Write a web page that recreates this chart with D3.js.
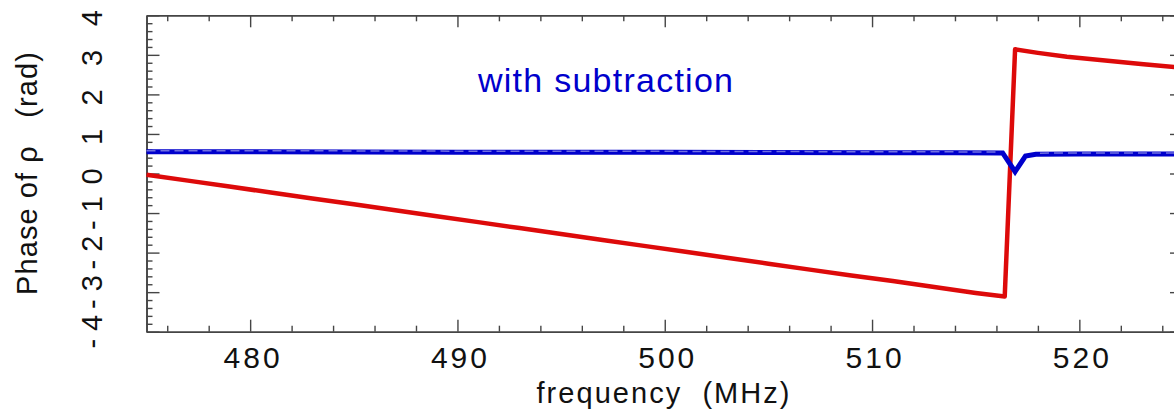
<!DOCTYPE html>
<html>
<head>
<meta charset="utf-8">
<script src="https://cdn.jsdelivr.net/npm/d3@7"></script>
<style>
  html, body { margin: 0; padding: 0; background: #fff; }
  svg { display: block; font-family: "Liberation Sans", Arial, Helvetica, sans-serif; }
</style>
</head>
<body>
<svg id="chart" width="1174" height="414"></svg>
<script>
// Frequency (MHz) and phase (rad) of the reflection coefficient
const rawFreq = [475, 477, 479, 481, 483, 485, 487, 489, 491, 493, 495, 497, 499,
                 501, 503, 505, 507, 509, 511, 513, 515, 516.4, 516.9, 518, 519.4,
                 521, 523.1, 525];
const rawPhase = [-0.03, -0.18, -0.33, -0.48, -0.63, -0.78, -0.93, -1.08, -1.23,
                  -1.38, -1.53, -1.68, -1.83, -1.98, -2.13, -2.28, -2.43, -2.58,
                  -2.72, -2.87, -3.02, -3.11, 3.14, 3.05, 2.95, 2.87, 2.76, 2.67];

const subFreq = [475, 480, 485, 490, 495, 500, 505, 510, 514, 516.3, 516.9, 517.4,
                 517.9, 520, 522.5, 525];
const subPhase = [0.55, 0.55, 0.545, 0.54, 0.54, 0.535, 0.53, 0.525, 0.525, 0.52,
                  0.045, 0.44, 0.485, 0.495, 0.495, 0.495];

// Companion trace drawn dashed on top of the subtracted phase (gap at the dip)
const refFreq = [475, 482, 490, 500, 510, 516.2, null, 518.1, 521, 525];
const refPhase = [0.575, 0.575, 0.565, 0.56, 0.55, 0.545, null, 0.515, 0.52, 0.52];

const xMajor = [480, 490, 500, 510, 520];
const xMinor = [476, 478, 482, 484, 486, 488, 492, 494, 496, 498, 502, 504, 506, 508,
                512, 514, 516, 518, 522, 524];
const yMajor = [-4, -3, -2, -1, 0, 1, 2, 3, 4];
const yMinor = [-3.8, -3.6, -3.4, -3.2, -2.8, -2.6, -2.4, -2.2, -1.8, -1.6, -1.4, -1.2,
                -0.8, -0.6, -0.4, -0.2, 0.2, 0.4, 0.6, 0.8, 1.2, 1.4, 1.6, 1.8,
                2.2, 2.4, 2.6, 2.8, 3.2, 3.4, 3.6, 3.8];
const yTickText = ["- 4", "- 3", "- 2", "- 1", "0", "1", "2", "3", "4"];

const svg = d3.select("#chart");
const plotLeft = 146.5, plotRight = 1183, plotTop = 15.3, plotBottom = 331.7;

const x = d3.scaleLinear().domain([475, 525]).range([plotLeft, plotRight]);
const y = d3.scaleLinear().domain([-4, 4]).range([plotBottom, plotTop]);

const axisColor = "#454545";

function styleAxis(g) {
  g.selectAll("path.domain").attr("stroke", axisColor).attr("stroke-width", 1.6);
  g.selectAll(".tick line").attr("stroke", axisColor).attr("stroke-width", 1.4);
  g.selectAll(".tick text").remove();
}

function addAxis(axisFn, scale, values, size, tx, ty) {
  const g = svg.append("g").attr("transform", `translate(${tx},${ty})`)
    .call(axisFn(scale).tickValues(values).tickSize(size).tickSizeOuter(0).tickFormat(""));
  styleAxis(g);
  return g;
}

// bottom & top frame
addAxis(d3.axisTop, x, xMajor, 12, 0, plotBottom);
addAxis(d3.axisTop, x, xMinor, 6, 0, plotBottom);
addAxis(d3.axisBottom, x, xMajor, 12, 0, plotTop);
addAxis(d3.axisBottom, x, xMinor, 6, 0, plotTop);
// left & right frame
addAxis(d3.axisRight, y, yMajor, 13, plotLeft, 0);
addAxis(d3.axisRight, y, yMinor, 6, plotLeft, 0);
addAxis(d3.axisLeft, y, yMajor, 13, plotRight, 0);
addAxis(d3.axisLeft, y, yMinor, 6, plotRight, 0);

// x tick labels
svg.append("g").selectAll("text").data(xMajor).join("text")
  .attr("x", d => x(d) + 3)
  .attr("y", 368)
  .attr("text-anchor", "middle")
  .attr("font-size", 30)
  .attr("letter-spacing", "3px")
  .attr("fill", "#111")
  .text(d => d);

// y tick labels (rotated)
svg.append("g").selectAll("text").data(yMajor).join("text")
  .attr("transform", d => `translate(101.5,${y(d)}) rotate(-90)`)
  .attr("dx", d => d >= 0 ? -3 : 0)
  .attr("text-anchor", "middle")
  .attr("font-size", 29)
  .attr("fill", "#111")
  .style("white-space", "pre")
  .text((d, i) => yTickText[i]);

// axis titles
svg.append("text")
  .attr("x", 536.5).attr("y", 403)
  .attr("font-size", 29)
  .attr("textLength", 253).attr("lengthAdjust", "spacing")
  .attr("fill", "#111")
  .style("white-space", "pre")
  .text("frequency  (MHz)");

svg.append("text")
  .attr("transform", `translate(37,${(plotTop + plotBottom) / 2}) rotate(-90)`)
  .attr("text-anchor", "middle")
  .attr("font-size", 29)
  .attr("textLength", 243).attr("lengthAdjust", "spacing")
  .attr("fill", "#111")
  .style("white-space", "pre")
  .text("Phase of \u03C1   (rad)");

// curves
const line = d3.line()
  .defined(d => d[0] != null && d[1] != null)
  .x(d => x(d[0]))
  .y(d => y(d[1]));

svg.append("path")
  .datum(d3.zip(rawFreq, rawPhase))
  .attr("d", line)
  .attr("fill", "none")
  .attr("stroke", "#dd0a0a")
  .attr("stroke-width", 4.5)
  .attr("stroke-linejoin", "round");

svg.append("path")
  .datum(d3.zip(subFreq, subPhase))
  .attr("d", line)
  .attr("fill", "none")
  .attr("stroke", "#0000cc")
  .attr("stroke-width", 5)
  .attr("stroke-linejoin", "miter");

svg.append("path")
  .datum(d3.zip(refFreq, refPhase))
  .attr("d", line)
  .attr("fill", "none")
  .attr("stroke", "#8c8ce6")
  .attr("stroke-width", 1.5)
  .attr("stroke-dasharray", "9,5")
  .attr("opacity", 0.8);

svg.append("text")
  .attr("x", 478).attr("y", 91.5)
  .attr("font-size", 34)
  .attr("textLength", 255).attr("lengthAdjust", "spacing")
  .attr("fill", "#0000cc")
  .text("with subtraction");
</script>
</body>
</html>
